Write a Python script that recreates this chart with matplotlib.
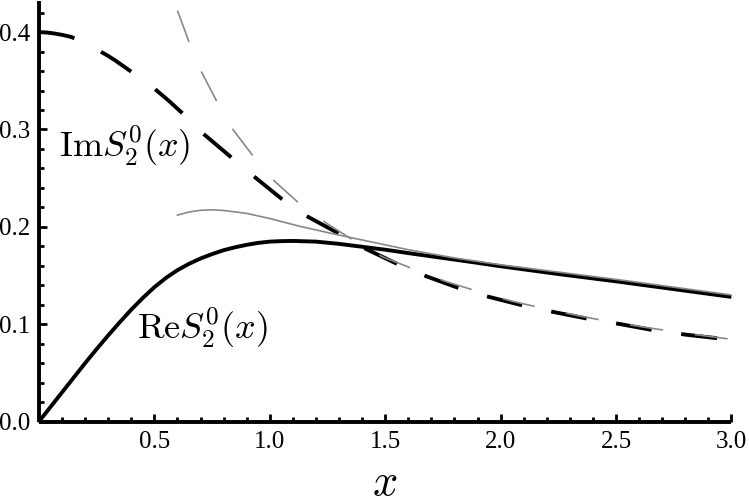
import matplotlib
matplotlib.use("Agg")
import matplotlib.pyplot as plt
from matplotlib.ticker import MultipleLocator, FixedLocator

plt.rcParams['mathtext.fontset'] = 'cm'
plt.rcParams['lines.scale_dashes'] = False

# Re S_2^0(x)  (thick solid black)
re_x = [0, 0.05, 0.1, 0.15, 0.2, 0.25, 0.3, 0.35, 0.4, 0.45, 0.5, 0.55, 0.6, 0.65,
        0.7, 0.75, 0.8, 0.85, 0.9, 0.95, 1.0, 1.05, 1.1, 1.2, 1.3, 1.4, 1.5, 1.6,
        1.75, 1.9, 2.0, 2.25, 2.5, 2.75, 3.0]
re_y = [0, 0.015, 0.030, 0.045, 0.060, 0.0745, 0.0885, 0.102, 0.115, 0.127, 0.138,
        0.1475, 0.1555, 0.162, 0.1675, 0.172, 0.176, 0.179, 0.1815, 0.1835, 0.1848,
        0.1853, 0.1855, 0.1848, 0.1825, 0.1795, 0.1765, 0.173, 0.168, 0.163, 0.1595,
        0.1515, 0.144, 0.136, 0.128]

# Im S_2^0(x)  (thick dashed black)
im_x = [0, 0.035, 0.07, 0.105, 0.14, 0.17, 0.2, 0.23, 0.26, 0.3, 0.33, 0.36, 0.39,
        0.45, 0.5, 0.56, 0.62, 0.71, 0.83, 0.93, 1.05, 1.16, 1.3, 1.41, 1.56, 1.68,
        1.82, 1.95, 2.1, 2.24, 2.39, 2.52, 2.68, 2.81, 2.96, 3.0]
im_y = [0.400, 0.3996, 0.3985, 0.397, 0.395, 0.392, 0.389, 0.3852, 0.381, 0.3755,
        0.371, 0.366, 0.361, 0.351, 0.342, 0.330, 0.317, 0.296, 0.272, 0.252, 0.229,
        0.211, 0.193, 0.178, 0.161, 0.149, 0.137, 0.128, 0.119, 0.112, 0.105, 0.100,
        0.093, 0.089, 0.085, 0.0835]

# asymptotic Im (thin dashed gray)
gd_x = [0.6, 0.65, 0.7, 0.77, 0.84, 0.93, 1.02, 1.13, 1.25, 1.37, 1.49, 1.63, 1.76,
        1.91, 2.05, 2.19, 2.33, 2.47, 2.62, 2.76, 2.9, 3.0]
gd_y = [0.422, 0.390, 0.361, 0.329, 0.300, 0.272, 0.247, 0.2235, 0.203, 0.185, 0.169,
        0.156, 0.144, 0.133, 0.1235, 0.116, 0.109, 0.1026, 0.097, 0.092, 0.0875, 0.0845]

# asymptotic Re (thin solid gray)
gs_x = [0.6, 0.65, 0.7, 0.75, 0.8, 0.9, 1.0, 1.13, 1.3, 1.45, 1.6, 1.8, 2.0, 2.25,
        2.5, 2.75, 3.0]
gs_y = [0.212, 0.2152, 0.2170, 0.2175, 0.2168, 0.2138, 0.2085, 0.2005, 0.1915, 0.184,
        0.1765, 0.168, 0.161, 0.1535, 0.146, 0.138, 0.130]

x_ticks = [0.5, 1.0, 1.5, 2.0, 2.5, 3.0]
x_labels = ["0.5", "1.0", "1.5", "2.0", "2.5", "3.0"]
y_ticks = [0.0, 0.1, 0.2, 0.3, 0.4]
y_labels = ["0.0", "0.1", "0.2", "0.3", "0.4"]

fig = plt.figure(figsize=(7.49, 5.03), dpi=100)
ax = fig.add_axes([39/749, 81.5/503, 692.4/749, 420.5/503])
ax.set_xlim(0, 3.0)
ax.set_ylim(0, 0.432)

ax.plot(re_x, re_y, color='black', lw=2.8, solid_capstyle='butt',
        solid_joinstyle='round', clip_on=False)
ax.plot(im_x, im_y, color='black', lw=2.8, linestyle=(0, (26, 21.5)),
        dash_capstyle='butt', dash_joinstyle='round')
ax.plot(gs_x, gs_y, color='#888888', lw=1.2)
ax.plot(gd_x, gd_y, color='#888888', lw=1.2, linestyle=(0, (24, 23)),
        dash_capstyle='butt')

for s in ['top', 'right']:
    ax.spines[s].set_visible(False)
for s in ['left', 'bottom']:
    ax.spines[s].set_linewidth(2.8)
    ax.spines[s].set_capstyle('butt')

ax.xaxis.set_major_locator(FixedLocator(x_ticks))
ax.set_xticklabels(x_labels)
ax.xaxis.set_minor_locator(MultipleLocator(0.1))
ax.yaxis.set_major_locator(FixedLocator(y_ticks))
ax.set_yticklabels(y_labels)
ax.yaxis.set_minor_locator(MultipleLocator(0.02))
ax.tick_params(which='both', direction='in', width=2.0)
ax.tick_params(which='major', length=5.5)
ax.tick_params(which='minor', length=3.5)
ax.tick_params(axis='x', which='major', pad=7)
ax.tick_params(axis='y', which='major', pad=6)
for lab in ax.get_xticklabels() + ax.get_yticklabels():
    lab.set_fontfamily('Liberation Serif')
    lab.set_fontsize(18)

ax.text(0.088, 0.272, r'$\mathrm{Im}S_2^0(x)$', fontsize=26, ha='left', va='baseline')
ax.text(0.425, 0.0848, r'$\mathrm{Re}S_2^0(x)$', fontsize=26, ha='left', va='baseline')
fig.text(385/749, 8/503, r'$x$', fontsize=32, ha='center', va='baseline')

fig.savefig('out.png', dpi=100)
